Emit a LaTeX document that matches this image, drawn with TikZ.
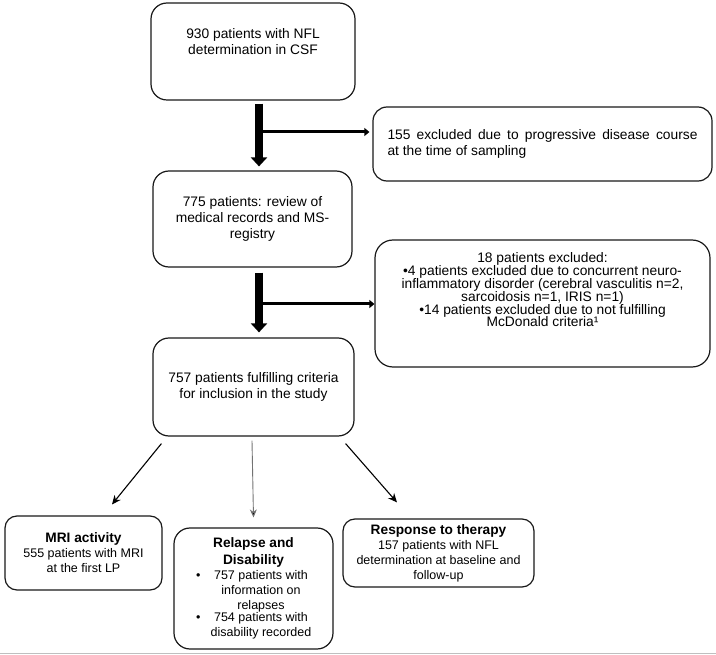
\documentclass[tikz,border=0pt]{standalone}
\usepackage{fontspec}
\setmainfont{Liberation Sans}
\usetikzlibrary{arrows.meta}
\newcommand\mainf{\fontsize{13.8}{16}\selectfont}
\newcommand\exclf{\fontsize{13.8}{12.8}\selectfont\lineskiplimit=-10pt\relax}
\newcommand\smf{\fontsize{12.5}{15}\selectfont}
\newcommand\ttlf{\bfseries\fontsize{13.7}{17}\selectfont}
\newcommand\bulitem[1]{\makebox[15pt][l]{\hspace{5pt}\textbullet}\parbox[t]{110pt}{\centering #1}}
\begin{document}
\begin{tikzpicture}[x=1pt,y=-1pt,
  box/.style={draw=black!90, line width=1.2pt, rounded corners=16pt, align=center, inner sep=0pt},
  sbox/.style={box, rounded corners=12pt, font=\smf},
  thickarr/.style={line width=8pt, -{Triangle[length=9pt,width=16pt]}},
  branch/.style={line width=3pt, -{Triangle[length=5pt,width=8pt]}},
  thinarr/.style={line width=1.1pt, -{Stealth[length=9pt,width=8pt]}},
  grayarr/.style={line width=0.9pt, draw=black!55, -{Stealth[length=8pt,width=7pt,fill=black]}}
]
\useasboundingbox (0,0) rectangle (716,655);

\node[box, minimum width=204, minimum height=97, font=\mainf] (b1) at (253,51.5)
  {930 patients with NFL\\determination in CSF\\[4pt]\mbox{}};
\node[box, minimum width=339, minimum height=74, rounded corners=14pt] (b2) at (542.5,144)
  {\parbox{310pt}{\mainf 155 excluded due to progressive disease course\linebreak at the time of sampling}};
\node[box, minimum width=199, minimum height=96, font=\mainf] (b3) at (252.5,219)
  {775 patients: review of\\medical records and MS-\\registry};
\node[box, minimum width=335, minimum height=127, rounded corners=18pt] (b4) at (542.5,303.5)
  {\parbox{330pt}{\centering\exclf 18 patients excluded:\\•4 patients excluded due to concurrent neuro-\\inflammatory disorder (cerebral vasculitis n=2,\\sarcoidosis n=1, IRIS n=1)\\•14 patients excluded due to not fulfilling\\McDonald criteria¹\par\vspace{27pt}}};
\node[box, minimum width=201, minimum height=98, font=\mainf] (b5) at (253.5,387)
  {757 patients fulfilling criteria\\for inclusion in the study};

\node[sbox, minimum width=157, minimum height=74] (mri) at (83.5,553)
  {{\ttlf MRI activity}\\555 patients with MRI\\at the first LP};
\node[sbox, minimum width=159, minimum height=121, rounded corners=16pt] (rel) at (253.5,588.5)
  {\parbox{155pt}{\centering{\ttlf Relapse and\\Disability\par}\smf
   \bulitem{757 patients with\\information on\\relapses}\par
   \bulitem{754 patients with\\disability recorded}\par}};
\node[sbox, minimum width=191, minimum height=68] (resp) at (438.5,553)
  {{\ttlf Response to therapy}\\157 patients with NFL\\determination at baseline and\\follow-up};

% main thick arrows
\draw[thickarr] ([shift={(6,3)}]b1.south) -- ([shift={(6.5,-4)}]b3.north);
\draw[thickarr] ([shift={(6.5,5)}]b3.south) -- ([shift={(5.5,-5)}]b5.north);
\coordinate (j1) at (259,132);
\coordinate (j2) at (259,304);
\draw[branch, shorten >=3pt] (j1) -- (j1 -| b2.west);
\draw[branch] (j2) -- (j2 -| b4.west);

% split arrows
\draw[thinarr] ([shift={(9,7)}]b5.south west) -- ([shift={(28.5,-11)}]mri.north);
\draw[grayarr] ([shift={(-1.5,4)}]b5.south) -- ([shift={(0,-10)}]rel.north);
\draw[thinarr] ([shift={(-9,7)}]b5.south east) -- ([shift={(-41.5,-16)}]resp.north);

\draw[black!25, line width=1pt] (0,653) -- (716,653);
\end{tikzpicture}
\end{document}
